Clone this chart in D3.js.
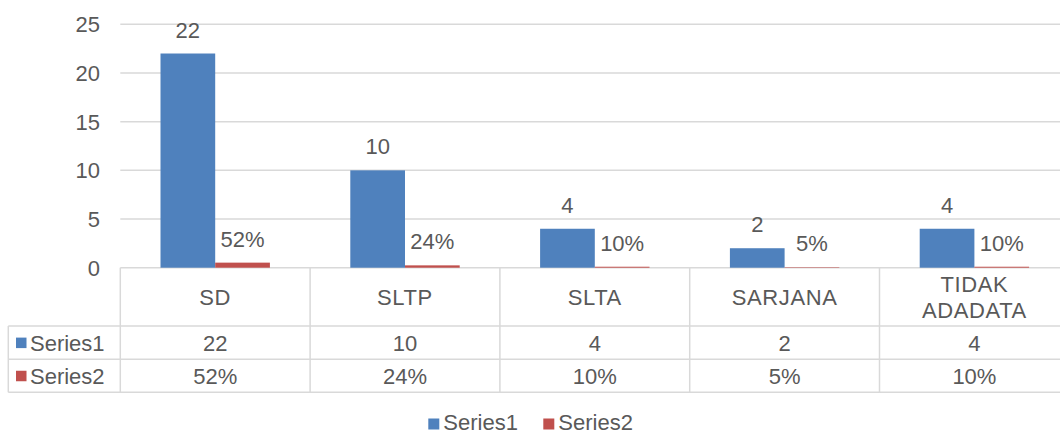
<!DOCTYPE html>
<html>
<head>
<meta charset="utf-8">
<script src="https://cdn.jsdelivr.net/npm/d3@7"></script>
<style>
  body { margin: 0; background: #fff; }
  text { font-family: "Liberation Sans", Arial, sans-serif; fill: #595959; }
</style>
</head>
<body>
<svg id="chart" width="1060" height="434"></svg>
<script>
// data
var categories = ["SD", "SLTP", "SLTA", "SARJANA", "TIDAK ADADATA"];
var catLines = [["SD"], ["SLTP"], ["SLTA"], ["SARJANA"], ["TIDAK", "ADADATA"]];
var seriesNames = ["Series1", "Series2"];
var series1 = [22, 10, 4, 2, 4];
var series2 = [0.52, 0.24, 0.10, 0.05, 0.10];
var yTicks = [0, 5, 10, 15, 20, 25];

var colors = ["#4f81bd", "#c0504d"];
var grid = "#d9d9d9";
var fmt = [d3.format("d"), d3.format(".0%")];
var fs = "22px";

var svg = d3.select("#chart");

var plotLeft = 120.3, tableLeft = 8.3;
var x = d3.scaleBand().domain(categories).range([plotLeft, plotLeft + 5 * 189.8]);
var xs = d3.scaleBand().domain(seriesNames).range([0, x.bandwidth()]).paddingOuter(0.735);
var y = d3.scaleLinear().domain([0, 25]).range([267.7, 24.3]);

var rows = seriesNames.map((s, i) => ({
  name: s,
  vals: (i === 0 ? series1 : series2),
  color: colors[i],
  fmt: fmt[i]
}));

// gridlines
svg.append("g")
  .selectAll("line")
  .data(yTicks)
  .enter()
  .append("line")
  .attr("x1", plotLeft)
  .attr("x2", 1070)
  .attr("y1", d => y(d))
  .attr("y2", d => y(d))
  .attr("stroke", grid)
  .attr("stroke-width", 1.5);

// y tick labels
svg.append("g")
  .selectAll("text")
  .data(yTicks)
  .enter()
  .append("text")
  .attr("x", 100)
  .attr("y", d => y(d))
  .attr("dy", "0.36em")
  .attr("text-anchor", "end")
  .style("font-size", fs)
  .text(d => d);

// bars + labels
rows.forEach(function(r) {
  var g = svg.append("g");
  g.selectAll("rect")
    .data(categories)
    .enter()
    .append("rect")
    .attr("x", (c) => x(c) + xs(r.name))
    .attr("width", xs.bandwidth())
    .attr("y", (c, i) => y(r.vals[i]))
    .attr("height", (c, i) => y(0) - y(r.vals[i]))
    .attr("fill", r.color);
  g.selectAll("text")
    .data(categories)
    .enter()
    .append("text")
    .attr("x", (c) => x(c) + xs(r.name) + xs.bandwidth() / 2)
    .attr("y", (c, i) => y(r.vals[i]) - 16)
    .attr("text-anchor", "middle")
    .style("font-size", fs)
    .text((c, i) => r.fmt(r.vals[i]));
});

// data table
var rowTop = [267.7, 326, 359.2, 392.3];
var t = svg.append("g").attr("stroke", grid).attr("stroke-width", 1.5);
// horizontal lines
t.append("line").attr("x1", tableLeft).attr("x2", 1070).attr("y1", rowTop[1]).attr("y2", rowTop[1]);
t.append("line").attr("x1", tableLeft).attr("x2", 1070).attr("y1", rowTop[2]).attr("y2", rowTop[2]);
t.append("line").attr("x1", tableLeft).attr("x2", 1070).attr("y1", rowTop[3]).attr("y2", rowTop[3]);
t.append("line").attr("x1", tableLeft).attr("x2", tableLeft).attr("y1", rowTop[1]).attr("y2", rowTop[3]);
// vertical lines at category edges
t.selectAll("line.v")
  .data(categories.concat(["end"]))
  .enter()
  .append("line")
  .attr("class", "v")
  .attr("x1", (c, i) => plotLeft + i * x.step())
  .attr("x2", (c, i) => plotLeft + i * x.step())
  .attr("y1", rowTop[0])
  .attr("y2", rowTop[3]);

// category header text
svg.append("g")
  .selectAll("text")
  .data(categories)
  .enter()
  .append("text")
  .attr("x", c => x(c) + x.bandwidth() / 2)
  .attr("text-anchor", "middle")
  .style("font-size", fs)
  .style("letter-spacing", "0.6px")
  .each(function(c, i) {
    var lines = catLines[i];
    var mid = (rowTop[0] + rowTop[1]) / 2;
    var sel = d3.select(this);
    lines.forEach(function(l, k) {
      sel.append("tspan")
        .attr("x", x(c) + x.bandwidth() / 2)
        .attr("y", mid + (k - (lines.length - 1) / 2) * 26)
        .attr("dy", "0.36em")
        .text(l);
    });
  });

// table rows
rows.forEach(function(r, ri) {
  var mid = (rowTop[ri + 1] + rowTop[ri + 2]) / 2;
  var g = svg.append("g");
  g.append("rect")
    .attr("x", 16).attr("y", mid - 5).attr("width", 10.5).attr("height", 10.5)
    .attr("fill", r.color);
  g.append("text")
    .attr("x", 30).attr("y", mid).attr("dy", "0.36em")
    .style("font-size", fs)
    .text(r.name);
  g.selectAll("text.v")
    .data(categories)
    .enter()
    .append("text")
    .attr("class", "v")
    .attr("x", c => x(c) + x.bandwidth() / 2)
    .attr("y", mid)
    .attr("dy", "0.36em")
    .attr("text-anchor", "middle")
    .style("font-size", fs)
    .text((c, i) => r.fmt(r.vals[i]));
});

// legend
var legX = [428.3, 543.3];
var lg = svg.append("g")
  .selectAll("g")
  .data(rows)
  .enter()
  .append("g")
  .attr("transform", (d, i) => "translate(" + legX[i] + ",418.5)");
lg.append("rect").attr("width", 11).attr("height", 11).attr("fill", d => d.color);
lg.append("text")
  .attr("x", 15).attr("y", 11)
  .style("font-size", fs)
  .text(d => d.name);
</script>
</body>
</html>
